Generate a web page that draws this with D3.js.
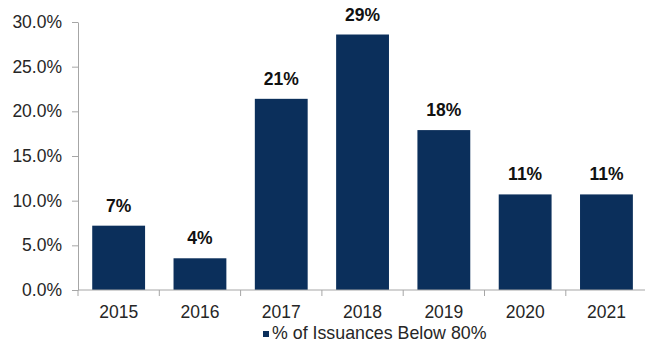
<!DOCTYPE html>
<html>
<head>
<meta charset="utf-8">
<script src="https://cdn.jsdelivr.net/npm/d3@7"></script>
<style>
  body { margin: 0; background: #fff; }
  svg text { font-family: "Liberation Sans", Arial, sans-serif; }
</style>
</head>
<body>
<svg id="chart"></svg>
<script>
// values
var years = ["2015", "2016", "2017", "2018", "2019", "2020", "2021"];
var shares = [0.072, 0.0355, 0.214, 0.286, 0.179, 0.107, 0.107];
var shareLabels = ["7%", "4%", "21%", "29%", "18%", "11%", "11%"];
var yTicks = [0, 0.05, 0.10, 0.15, 0.20, 0.25, 0.30];
var seriesName = "% of Issuances Below 80%";

var width = 645, height = 354;
var margin = {top: 22, right: 0, bottom: 64, left: 78};

var svg = d3.select("#chart")
    .attr("width", width)
    .attr("height", height);

var x = d3.scaleBand()
    .domain(years)
    .range([margin.left, margin.left + 7 * 81.3])
    .paddingInner(0.35)
    .paddingOuter(0.175);

var y = d3.scaleLinear()
    .domain([0, 0.30])
    .range([height - margin.bottom, margin.top]);

// y axis
var yAxis = svg.append("g")
    .attr("transform", "translate(" + margin.left + ",0)")
    .call(d3.axisLeft(y).tickValues(yTicks).tickFormat(d3.format(".1%")).tickSize(6).tickSizeOuter(0));
yAxis.select(".domain").attr("stroke", "#a6a6a6");
yAxis.selectAll(".tick line").attr("stroke", "#a6a6a6");
yAxis.selectAll(".tick text")
    .attr("x", -16)
    .attr("font-size", 17.5)
    .attr("fill", "#262626");

// bars
svg.append("g").selectAll("rect")
    .data(shares)
    .enter()
    .append("rect")
    .attr("x", function(d, i) { return x(years[i]); })
    .attr("y", function(d) { return y(d); })
    .attr("width", x.bandwidth())
    .attr("height", function(d) { return y(0) - y(d); })
    .attr("fill", "#0b2f5b");

// value labels
svg.append("g").selectAll("text")
    .data(shares)
    .enter()
    .append("text")
    .attr("x", function(d, i) { return x(years[i]) + x.bandwidth() / 2; })
    .attr("y", function(d) { return y(d) - 14; })
    .attr("text-anchor", "middle")
    .attr("font-size", 17.5)
    .attr("font-weight", "bold")
    .attr("fill", "#111")
    .text(function(d, i) { return shareLabels[i]; });

// x axis
var xAxis = svg.append("g")
    .attr("transform", "translate(0," + y(0) + ")")
    .call(d3.axisBottom(x).tickSize(0).tickSizeOuter(0));
xAxis.select(".domain").attr("stroke", "#a6a6a6").attr("d", "M" + margin.left + ",0H" + width);
xAxis.selectAll(".tick text")
    .attr("y", 16)
    .attr("dy", "0.71em")
    .attr("font-size", 17.5)
    .attr("fill", "#262626");

// separators between categories
var step = x.step();
xAxis.append("g").selectAll("line")
    .data(years)
    .enter()
    .append("line")
    .attr("x1", function(d) { return x(d) - x.paddingOuter() * step; })
    .attr("x2", function(d) { return x(d) - x.paddingOuter() * step; })
    .attr("y1", 0)
    .attr("y2", 6)
    .attr("stroke", "#a6a6a6");

// legend
var legend = svg.append("g").attr("transform", "translate(263,331)");
legend.append("rect")
    .attr("width", 6)
    .attr("height", 6)
    .attr("fill", "#0b2f5b");
legend.append("text")
    .attr("x", 9)
    .attr("y", 8)
    .attr("font-size", 17.8)
    .attr("fill", "#262626")
    .text(seriesName);
</script>
</body>
</html>
